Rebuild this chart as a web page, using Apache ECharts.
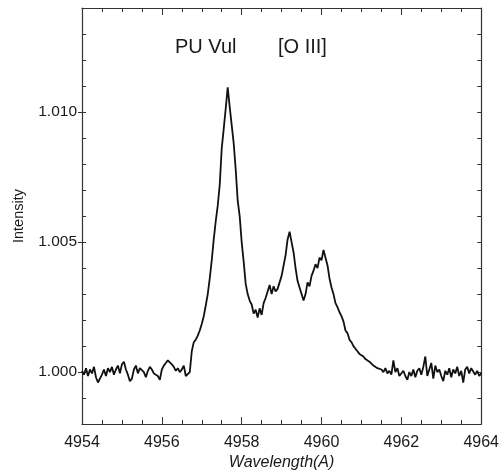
<!DOCTYPE html>
<html>
<head>
<meta charset="utf-8">
<script src="https://cdn.jsdelivr.net/npm/echarts@6/dist/echarts.min.js"></script>
<style>
html,body{margin:0;padding:0;background:#fff;}
#chart{width:502px;height:476px;}
</style>
</head>
<body>
<div id="chart"></div>
<script>
// Sampling grid (Angstrom)
const wavelengthStart = 4954;
const wavelengthStep = 0.05;

// Intensity, one block per Angstrom
const intensity4954 = [1.00005,0.99990,1.00015,0.99985,1.00010,0.99995,1.00020,0.99980,0.99960,0.99955,0.99990,1.00010,0.99985,1.00015,1.00000,1.00020,0.99990,1.00010,1.00025,0.99995];
const intensity4955 = [1.00030,1.00040,1.00010,0.99990,0.99965,0.99975,1.00010,1.00025,0.99995,1.00015,1.00020,1.00000,0.99980,1.00005,1.00020,1.00010,0.99995,1.00000,0.99985,0.99970];
const intensity4956 = [1.00010,1.00025,1.00035,1.00045,1.00040,1.00030,1.00020,1.00005,1.00015,1.00000,1.00010,1.00025,0.99985,0.99980,1.00000,1.00080,1.00115,1.00125,1.00140,1.00160];
const intensity4957 = [1.00185,1.00215,1.00256,1.00300,1.00360,1.00430,1.00510,1.00580,1.00640,1.00720,1.00860,1.00935,1.01013,1.01095,1.01020,1.00950,1.00880,1.00780,1.00660,1.00600];
const intensity4958 = [1.00500,1.00425,1.00340,1.00300,1.00275,1.00260,1.00225,1.00240,1.00210,1.00245,1.00220,1.00265,1.00285,1.00310,1.00335,1.00300,1.00330,1.00310,1.00320,1.00345];
const intensity4959 = [1.00370,1.00410,1.00450,1.00510,1.00540,1.00500,1.00460,1.00400,1.00350,1.00325,1.00300,1.00275,1.00300,1.00345,1.00330,1.00370,1.00390,1.00415,1.00400,1.00440];
const intensity4960 = [1.00430,1.00470,1.00440,1.00410,1.00360,1.00325,1.00300,1.00265,1.00250,1.00230,1.00215,1.00195,1.00160,1.00150,1.00125,1.00115,1.00100,1.00090,1.00080,1.00070];
const intensity4961 = [1.00065,1.00060,1.00050,1.00055,1.00040,1.00045,1.00025,1.00030,1.00015,1.00020,1.00010,1.00000,1.00015,0.99995,1.00005,0.99990,1.00045,1.00000,1.00015,0.99985];
const intensity4962 = [0.99990,1.00005,0.99985,0.99970,1.00000,0.99985,1.00010,0.99980,1.00005,1.00015,0.99990,1.00020,1.00060,0.99985,1.00010,1.00035,0.99975,1.00025,1.00000,1.00010];
const intensity4963 = [0.99985,0.99965,1.00005,0.99990,1.00015,0.99980,1.00010,0.99995,1.00020,0.99985,1.00005,0.99960,1.00010,1.00020,0.99995,1.00015,1.00010,0.99990,1.00005,0.99985,0.99995];

// Tick labels
const xTickLabels = [4954, 4956, 4958, 4960, 4962, 4964];
const yTickLabels = [1.000, 1.005, 1.010];

const titleLeft = 'PU Vul';
const titleRight = '[O III]';

const intensity = [].concat(intensity4954, intensity4955, intensity4956, intensity4957,
  intensity4958, intensity4959, intensity4960, intensity4961, intensity4962, intensity4963);
const seriesData = intensity.map((v, i) => [+(wavelengthStart + i * wavelengthStep).toFixed(2), v]);

const FONT = '"Liberation Sans", Arial, Helvetica, sans-serif';
const INK = '#1a1a1a';
const FRAME = '#333';

const xMin = xTickLabels[0], xMax = xTickLabels[xTickLabels.length - 1];
const yMin = 0.998, yMax = 1.014;

const chart = echarts.init(document.getElementById('chart'), null, {renderer: 'canvas'});
chart.setOption({
  animation: false,
  backgroundColor: '#fff',
  grid: {left: 82, top: 8, width: 403, height: 421, containLabel: false},
  graphic: [
    {type: 'text', left: 175, top: 37, style: {text: titleLeft, font: '20px ' + FONT, fill: INK}},
    {type: 'text', left: 278, top: 37, style: {text: titleRight, font: '20px ' + FONT, fill: INK}}
  ],
  xAxis: [
    {
      type: 'value', position: 'bottom', min: xMin, max: xMax, interval: 2,
      name: 'Wavelength(A)', nameLocation: 'middle', nameGap: 28,
      nameTextStyle: {fontFamily: FONT, fontSize: 16, fontStyle: 'italic', color: INK},
      axisLine: {show: true, onZero: false, lineStyle: {color: FRAME, width: 1.2}},
      axisTick: {show: true, inside: true, length: 7, lineStyle: {color: FRAME}},
      minorTick: {show: true, splitNumber: 4, length: 4, lineStyle: {color: FRAME}},
      axisLabel: {margin: 10, fontFamily: FONT, fontSize: 16, color: INK,
        customValues: xTickLabels, formatter: v => String(Math.round(v))},
      splitLine: {show: false}, minorSplitLine: {show: false}
    },
    {
      type: 'value', position: 'top', min: xMin, max: xMax, interval: 2,
      axisLine: {show: true, onZero: false, lineStyle: {color: FRAME, width: 1.2}},
      axisTick: {show: true, inside: true, length: 7, lineStyle: {color: FRAME}},
      minorTick: {show: true, splitNumber: 4, length: 4, lineStyle: {color: FRAME}},
      axisLabel: {show: false}, splitLine: {show: false}
    }
  ],
  yAxis: [
    {
      type: 'value', position: 'left', min: yMin, max: yMax, interval: 0.001,
      name: 'Intensity', nameLocation: 'middle', nameGap: 56, nameRotate: 90,
      nameTextStyle: {fontFamily: FONT, fontSize: 14.5, color: INK},
      axisLine: {show: true, onZero: false, lineStyle: {color: FRAME, width: 1.2}},
      axisTick: {show: true, inside: true, length: 4, lineStyle: {color: FRAME}},
      axisLabel: {margin: 5, fontFamily: FONT, fontSize: 15.5, color: INK,
        customValues: yTickLabels, formatter: v => v.toFixed(3)},
      splitLine: {show: false}
    },
    {
      type: 'value', position: 'right', min: yMin, max: yMax, interval: 0.001,
      axisLine: {show: true, onZero: false, lineStyle: {color: FRAME, width: 1.2}},
      axisTick: {show: true, inside: true, length: 4, lineStyle: {color: FRAME}},
      axisLabel: {show: false}, splitLine: {show: false}
    },
    {
      type: 'value', position: 'left', min: yMin, max: yMax,
      axisLine: {show: false},
      axisTick: {show: true, inside: false, length: 4, customValues: yTickLabels, lineStyle: {color: FRAME}},
      axisLabel: {show: false}, splitLine: {show: false}
    }
  ],
  series: [{
    type: 'line', xAxisIndex: 0, yAxisIndex: 0,
    data: seriesData, showSymbol: false, symbol: 'none', smooth: false,
    lineStyle: {color: '#111', width: 1.8},
    clip: true
  }]
});
</script>
</body>
</html>
